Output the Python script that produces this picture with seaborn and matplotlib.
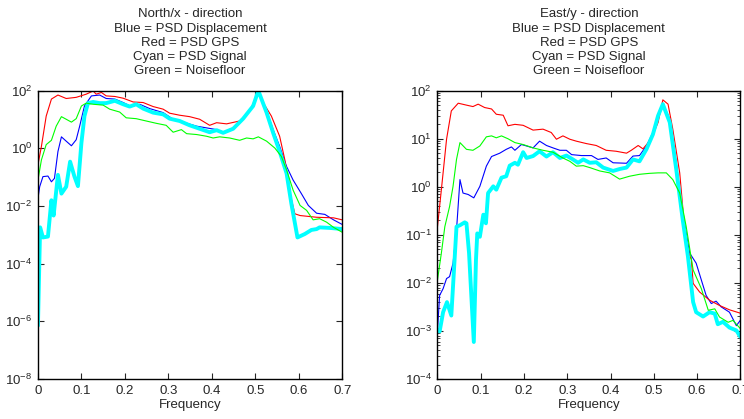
import numpy as np
import pandas as pd
import matplotlib
matplotlib.use('Agg')
import matplotlib.pyplot as plt
import seaborn as sns

# ---- data (log10 of PSD) ----
# North / x
n_red_f = [0, 0.008, 0.019, 0.031, 0.046, 0.065, 0.088, 0.111, 0.127, 0.134, 0.146, 0.157, 0.177, 0.196,
           0.219, 0.242, 0.265, 0.288, 0.303, 0.326, 0.349, 0.372, 0.395, 0.411, 0.434, 0.464, 0.487, 0.507,
           0.518, 0.537, 0.556, 0.568, 0.580, 0.591, 0.603, 0.641, 0.680, 0.7]
n_red = [-0.57, 0.07, 1.12, 1.71, 1.85, 1.73, 1.77, 1.88, 1.99, 1.88, 1.94, 1.82, 1.80, 1.74,
         1.61, 1.59, 1.45, 1.36, 1.22, 1.15, 1.10, 1.01, 0.80, 0.89, 0.85, 0.95, 1.30, 1.94,
         1.59, 1.12, 0.42, -0.40, -1.57, -2.27, -2.33, -2.39, -2.41, -2.48]

n_blue_f = [0, 0.004, 0.0115, 0.023, 0.031, 0.038, 0.046, 0.054, 0.065, 0.077, 0.088, 0.096, 0.107, 0.123,
            0.142, 0.157, 0.177, 0.196, 0.215, 0.234, 0.257, 0.288, 0.311, 0.334, 0.365, 0.388, 0.411,
            0.426, 0.449, 0.472, 0.495, 0.507, 0.526, 0.541, 0.556, 0.572, 0.587, 0.606, 0.622, 0.641,
            0.660, 0.680, 0.7]
n_blue = [-1.74, -1.33, -0.98, -0.96, -1.16, -1.04, -0.11, 0.40, 0.25, 0.09, 0.30, 0.77, 1.47, 1.82,
          1.85, 1.73, 1.71, 1.59, 1.45, 1.53, 1.38, 1.24, 1.01, 0.91, 0.77, 0.71, 0.65,
          0.56, 0.71, 1.03, 1.47, 1.96, 1.30, 0.65, 0.07, -0.63, -1.10, -1.57, -1.98, -2.25,
          -2.29, -2.48, -2.64]

n_green_f = [0, 0.008, 0.019, 0.031, 0.042, 0.054, 0.065, 0.077, 0.088, 0.100, 0.111, 0.127, 0.150, 0.165,
             0.188, 0.203, 0.226, 0.249, 0.272, 0.295, 0.311, 0.330, 0.342, 0.365, 0.388, 0.403, 0.418,
             0.441, 0.464, 0.480, 0.495, 0.507, 0.526, 0.545, 0.560, 0.572, 0.587, 0.603, 0.618, 0.633,
             0.648, 0.664, 0.680, 0.7]
n_green = [-1.10, -0.40, 0.13, 0.28, 0.77, 1.10, 1.01, 0.91, 1.03, 1.47, 1.57, 1.53, 1.50, 1.36,
           1.26, 1.06, 1.03, 0.95, 0.87, 0.80, 0.56, 0.65, 0.51, 0.48, 0.42, 0.36, 0.40,
           0.36, 0.28, 0.36, 0.33, 0.40, 0.25, 0.01, -0.28, -0.75, -1.45, -1.98, -2.15, -2.48,
           -2.44, -2.56, -2.74, -2.91]

n_cyan_f = [0, 0.005, 0.0115, 0.023, 0.031, 0.036, 0.046, 0.054, 0.065, 0.074, 0.084, 0.092, 0.100, 0.107,
            0.115, 0.127, 0.142, 0.157, 0.177, 0.196, 0.211, 0.226, 0.242, 0.265, 0.288, 0.303, 0.326,
            0.349, 0.372, 0.395, 0.411, 0.426, 0.449, 0.472, 0.495, 0.507, 0.526, 0.541, 0.556, 0.572,
            0.583, 0.597, 0.614, 0.629, 0.641, 0.648, 0.672, 0.7]
n_cyan = [-6.15, -2.74, -3.09, -3.06, -1.80, -2.33, -0.92, -1.57, -1.33, -0.46, -0.98, -1.31, 0.19, 1.12,
          1.57, 1.61, 1.57, 1.57, 1.65, 1.53, 1.45, 1.53, 1.38, 1.24, 1.18, 1.03, 0.95,
          0.80, 0.68, 0.56, 0.63, 0.54, 0.68, 1.03, 1.47, 2.0, 1.24, 0.54, -0.11, -0.87,
          -1.92, -3.09, -2.97, -2.83, -2.80, -2.74, -2.76, -2.80]

# East / y
e_red_f = [0, 0.009, 0.021, 0.032, 0.048, 0.067, 0.082, 0.094, 0.109, 0.125, 0.136, 0.152, 0.163, 0.179,
           0.198, 0.221, 0.244, 0.263, 0.275, 0.290, 0.306, 0.321, 0.344, 0.367, 0.390, 0.413, 0.437,
           0.448, 0.464, 0.475, 0.494, 0.510, 0.521, 0.533, 0.544, 0.560, 0.575, 0.587, 0.591, 0.606,
           0.629, 0.652, 0.675, 0.7]
e_red = [-0.83, -0.06, 0.99, 1.58, 1.74, 1.70, 1.67, 1.72, 1.65, 1.62, 1.51, 1.49, 1.27, 1.30,
         1.28, 1.18, 1.20, 1.13, 0.99, 1.06, 0.99, 0.95, 0.90, 0.86, 0.76, 0.74, 0.70,
         0.76, 0.86, 0.79, 0.99, 1.34, 1.81, 1.72, 1.20, 0.29, -1.24, -1.52, -2.01, -2.19,
         -2.36, -2.47, -2.56, -2.63]

e_blue_f = [0, 0.005, 0.013, 0.021, 0.028, 0.036, 0.044, 0.052, 0.059, 0.071, 0.084, 0.098, 0.113, 0.125,
            0.144, 0.159, 0.171, 0.179, 0.194, 0.206, 0.221, 0.236, 0.252, 0.267, 0.283, 0.298, 0.310,
            0.333, 0.356, 0.371, 0.390, 0.406, 0.437, 0.452, 0.467, 0.483, 0.498, 0.510, 0.521, 0.537,
            0.552, 0.567, 0.583, 0.598, 0.610, 0.621, 0.633, 0.644, 0.656, 0.675, 0.691, 0.7]
e_blue = [-2.99, -2.26, -2.12, -1.91, -1.87, -1.59, -0.90, 0.15, -0.13, -0.16, -0.23, 0.01, 0.43, 0.63,
          0.70, 0.78, 0.83, 0.76, 0.88, 0.85, 0.81, 0.95, 0.86, 0.81, 0.76, 0.76, 0.67,
          0.65, 0.65, 0.57, 0.60, 0.50, 0.49, 0.64, 0.65, 0.85, 1.13, 1.51, 1.74, 1.41,
          0.50, -0.55, -1.38, -1.59, -1.94, -2.26, -2.43, -2.38, -2.50, -2.61, -2.89, -2.78]

e_green_f = [0, 0.009, 0.017, 0.028, 0.036, 0.044, 0.052, 0.067, 0.082, 0.098, 0.113, 0.125, 0.136, 0.148,
             0.163, 0.179, 0.198, 0.221, 0.244, 0.267, 0.290, 0.306, 0.321, 0.337, 0.352, 0.375, 0.398,
             0.421, 0.444, 0.467, 0.490, 0.510, 0.529, 0.544, 0.560, 0.575, 0.591, 0.610, 0.626, 0.641,
             0.652, 0.672, 0.683, 0.7]
e_green = [-1.94, -1.38, -0.83, -0.41, 0.01, 0.57, 0.92, 0.78, 0.76, 0.85, 1.04, 1.06, 1.02, 1.06,
           1.00, 0.92, 0.88, 0.81, 0.76, 0.72, 0.60, 0.53, 0.43, 0.44, 0.40, 0.33, 0.29,
           0.16, 0.22, 0.26, 0.28, 0.29, 0.29, 0.15, -0.13, -0.83, -1.73, -2.12, -2.57, -2.54,
           -2.71, -2.82, -2.78, -2.95]

e_cyan_f = [0, 0.005, 0.013, 0.022, 0.032, 0.044, 0.052, 0.063, 0.067, 0.073, 0.084, 0.089, 0.092, 0.098,
            0.106, 0.112, 0.117, 0.129, 0.136, 0.148, 0.159, 0.167, 0.179, 0.186, 0.198, 0.206, 0.221,
            0.236, 0.252, 0.267, 0.283, 0.298, 0.313, 0.325, 0.337, 0.352, 0.367, 0.383, 0.406, 0.421,
            0.437, 0.452, 0.467, 0.483, 0.498, 0.510, 0.521, 0.537, 0.552, 0.567, 0.579, 0.591, 0.598,
            0.614, 0.629, 0.641, 0.648, 0.660, 0.675, 0.691, 0.7]
e_cyan = [-2.99, -3.01, -2.61, -2.40, -2.68, -0.83, -0.80, -0.74, -0.76, -1.38, -3.23, -1.52, -0.97, -1.04,
          -0.58, -0.76, -0.13, 0.01, -0.06, 0.19, 0.22, 0.44, 0.50, 0.46, 0.72, 0.60, 0.64,
          0.74, 0.63, 0.72, 0.60, 0.65, 0.57, 0.50, 0.57, 0.50, 0.51, 0.40, 0.33, 0.37,
          0.40, 0.57, 0.53, 0.78, 1.09, 1.48, 1.72, 1.34, 0.36, -0.69, -1.45, -2.40, -2.61,
          -2.70, -2.61, -2.64, -2.86, -2.81, -2.93, -2.99, -3.12]

titles = ['North/x - direction', 'East/y - direction']
legend_lines = ['Blue = PSD Displacement', 'Red = PSD GPS', 'Cyan = PSD Signal', 'Green = Noisefloor']
x_ticks = [0, 0.1, 0.2, 0.3, 0.4, 0.5, 0.6, 0.7]
x_tick_labels = ['0', '0.1', '0.2', '0.3', '0.4', '0.5', '0.6', '0.7']
north_yticks = [1e-8, 1e-6, 1e-4, 1e-2, 1e0, 1e2]
east_yticks = [1e-4, 1e-3, 1e-2, 1e-1, 1e0, 1e1, 1e2]

sns.set_style('ticks')
plt.rcParams['font.family'] = ['Liberation Sans', 'DejaVu Sans']
plt.rcParams['mathtext.fontset'] = 'custom'
plt.rcParams['mathtext.rm'] = 'Liberation Sans'
plt.rcParams['mathtext.it'] = 'Liberation Sans'
plt.rcParams['font.size'] = 9.5

BLUE, RED, CYAN, GREEN = '#0000FF', '#FF0000', '#00FFFF', '#00FF00'

fig = plt.figure(figsize=(7.44, 4.19), dpi=100)
ax1 = fig.add_axes([0.051, 0.0955, 0.409, 0.688])
ax2 = fig.add_axes([0.588, 0.0955, 0.407, 0.688])

panels = [
    (ax1, titles[0], [(n_blue_f, n_blue, BLUE, 0.8), (n_red_f, n_red, RED, 0.8),
                      (n_cyan_f, n_cyan, CYAN, 2.8), (n_green_f, n_green, GREEN, 0.8)],
     (1e-8, 1e2), north_yticks),
    (ax2, titles[1], [(e_blue_f, e_blue, BLUE, 0.8), (e_red_f, e_red, RED, 0.8),
                      (e_cyan_f, e_cyan, CYAN, 2.8), (e_green_f, e_green, GREEN, 0.8)],
     (1e-4, 1e2), east_yticks),
]

for ax, title, curves, ylim, yticks in panels:
    for f, logv, color, lw in curves:
        df = pd.DataFrame({'Frequency': f, 'PSD': 10 ** np.array(logv)})
        sns.lineplot(data=df, x='Frequency', y='PSD', ax=ax, color=color, linewidth=lw,
                     estimator=None, sort=False)
    ax.set_yscale('log')
    ax.set_xlim(0, 0.7)
    ax.set_ylim(*ylim)
    ax.set_yticks(yticks)
    ax.set_xticks(x_ticks)
    ax.set_xticklabels(x_tick_labels)
    ax.set_ylabel('')
    ax.set_xlabel('Frequency', labelpad=2)
    ax.set_title('\n'.join([title] + legend_lines), fontsize=9.5, pad=12, linespacing=1.24)
    ax.tick_params(which='both', direction='in', top=True, right=True, labelsize=9.5, pad=4)
    ax.tick_params(which='major', length=4)
    ax.tick_params(which='minor', length=2)
    for s in ax.spines.values():
        s.set_visible(True)
        s.set_linewidth(1)
        s.set_color('black')

ax1.minorticks_off()

fig.savefig('out.png', dpi=100)
